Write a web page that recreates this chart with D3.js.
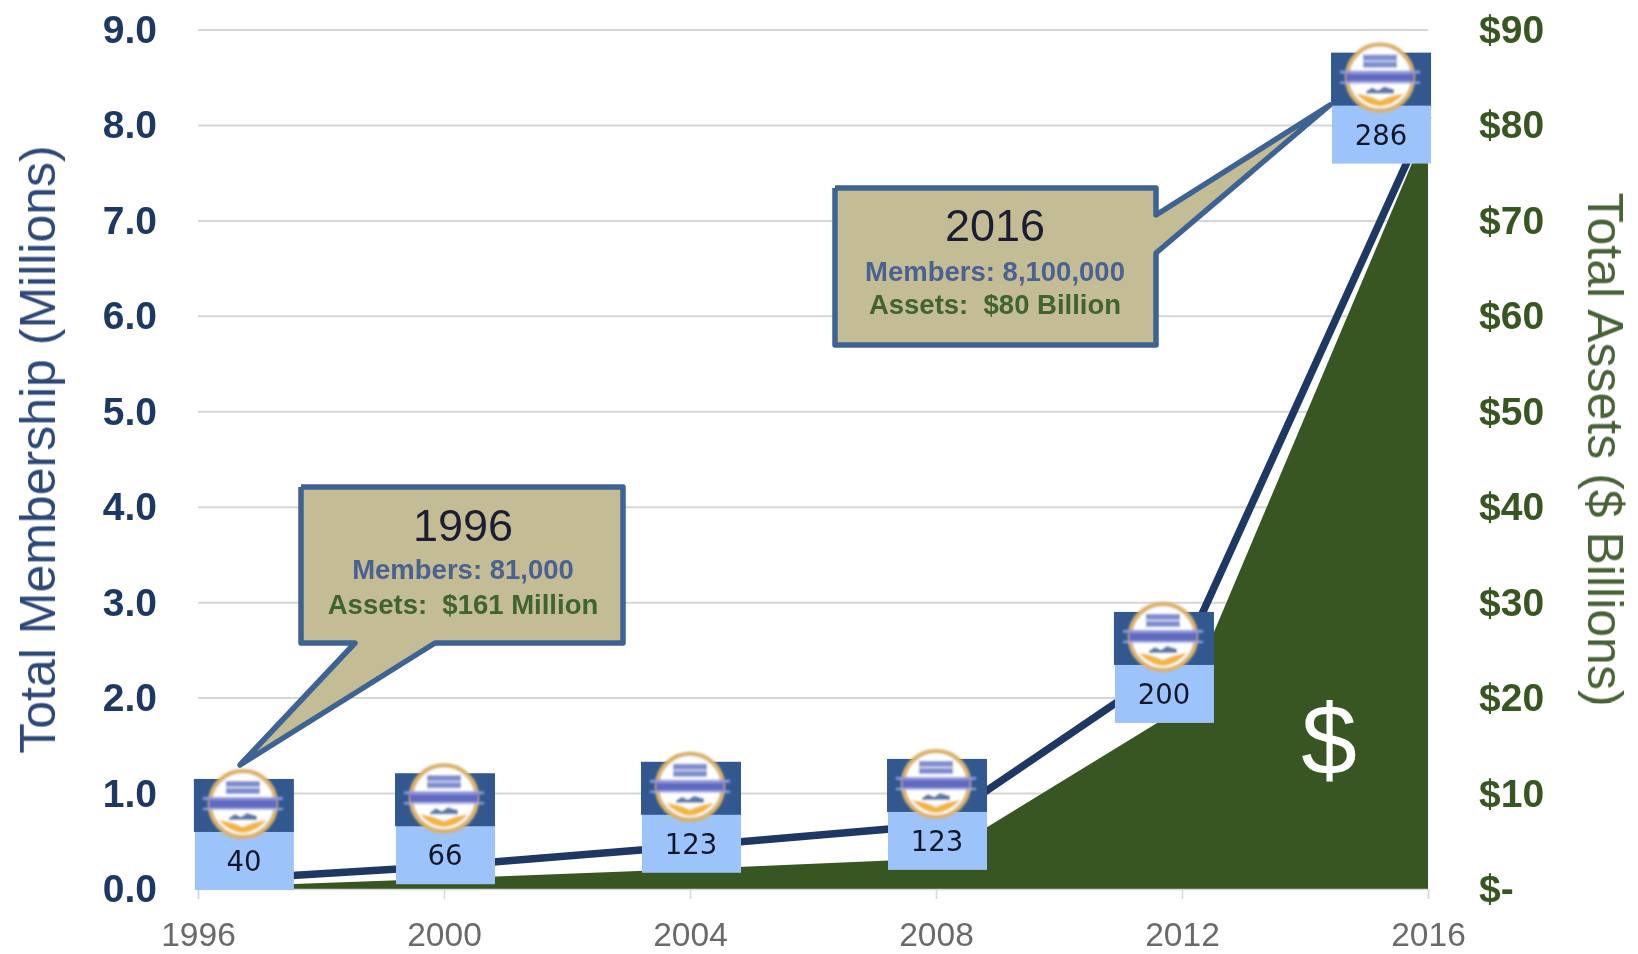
<!DOCTYPE html>
<html>
<head>
<meta charset="utf-8">
<script src="https://cdnjs.cloudflare.com/ajax/libs/d3/7.8.5/d3.min.js"></script>
<style>
  body { margin: 0; background: #fff; }
  text { font-family: "Liberation Sans", Arial, sans-serif; white-space: pre; }
</style>
</head>
<body>
<div id="chart"></div>
<script>
const years = [1996, 2000, 2004, 2008, 2012, 2016];
const members = [0.081, 0.24, 0.45, 0.67, 2.42, 8.1];   // millions
const assets = [0.161, 1.1, 2.1, 3.2, 19, 80];          // $ billions
const memberTicks = [0, 1, 2, 3, 4, 5, 6, 7, 8, 9];
const assetTicks = [0, 10, 20, 30, 40, 50, 60, 70, 80, 90];

// credit union badges
const badgeLabels = ["40", "66", "123", "123", "200", "286"];
const badgeYears = [1996.73, 2000, 2004, 2008, 2011.69, 2015.22];
const badgeLevels = [-0.01, 0.05, 0.17, 0.2, 1.74, 7.6];

const callout1996 = ["1996", "Members: 81,000", "Assets:  $161 Million"];
const callout2016 = ["2016", "Members: 8,100,000", "Assets:  $80 Billion"];

const margin = { top: 30, right: 210, bottom: 65, left: 198 },
  width = 1638 - margin.left - margin.right,
  height = 954 - margin.top - margin.bottom;

const navy = "#1f3864", green = "#375623", boxBlue = "#3c6494", tan = "#c4bc94";

const root = d3.select("#chart").append("svg")
  .attr("width", 1638)
  .attr("height", 954)
  .style("display", "block");

const defs = root.append("defs");
defs.append("filter").attr("id", "soft")
  .append("feGaussianBlur").attr("stdDeviation", 0.8);
defs.append("filter").attr("id", "page")
  .attr("filterUnits", "userSpaceOnUse")
  .attr("x", 0).attr("y", 0).attr("width", 1638).attr("height", 954)
  .append("feGaussianBlur").attr("stdDeviation", 0.55);

const page = root.append("g").attr("filter", "url(#page)");

const svg = page.append("g")
  .attr("transform", `translate(${margin.left},${margin.top})`);

const x = d3.scaleLinear().domain([1996, 2016]).range([0, width]);
const y = d3.scaleLinear().domain([0, 9]).range([height, 0]);
const yRight = d3.scaleLinear().domain([0, 90]).range([height, 0]);

// gridlines
svg.append("g")
  .selectAll("line")
  .data(memberTicks.slice(1))
  .join("line")
  .attr("x1", 0)
  .attr("x2", width)
  .attr("y1", d => y(d))
  .attr("y2", d => y(d))
  .attr("stroke", "#d6d6d6")
  .attr("stroke-width", 2);

// assets area
const area = d3.area()
  .x((d, i) => x(years[i]))
  .y0(height)
  .y1(d => yRight(d));

svg.append("path")
  .datum(assets)
  .attr("d", area)
  .attr("fill", green);

// membership line
const line = d3.line()
  .x((d, i) => x(years[i]))
  .y(d => y(d));

svg.append("path")
  .datum(members)
  .attr("d", line)
  .attr("fill", "none")
  .attr("stroke", navy)
  .attr("stroke-width", 7.5);

// axes
const xAxis = svg.append("g")
  .attr("transform", `translate(0,${height})`)
  .call(d3.axisBottom(x).tickValues(years).tickFormat(d3.format("d")).tickSize(10).tickPadding(23.5));
xAxis.select(".domain").attr("stroke", "#d9d9d9").attr("stroke-width", 1.6);
xAxis.selectAll(".tick line").attr("stroke", "#d9d9d9").attr("stroke-width", 1.6);
xAxis.selectAll("text").attr("fill", "#6a6a6a").style("font-size", "33.5px");

const yAxis = svg.append("g")
  .call(d3.axisLeft(y).tickValues(memberTicks).tickFormat(d3.format(".1f")).tickSize(0).tickPadding(41));
yAxis.select(".domain").remove();
yAxis.selectAll("text").attr("fill", navy)
  .style("font-size", "39px").style("font-weight", "bold");

const yAxisRight = svg.append("g")
  .attr("transform", `translate(${width},0)`)
  .call(d3.axisRight(yRight).tickValues(assetTicks)
    .tickFormat(d => d === 0 ? "$-" : "$" + d).tickSize(0).tickPadding(51));
yAxisRight.select(".domain").remove();
yAxisRight.selectAll("text").attr("fill", green)
  .style("font-size", "39px").style("font-weight", "bold");

// axis titles
svg.append("text")
  .attr("text-anchor", "middle")
  .attr("transform", `translate(${-143},${height / 2 - 10}) rotate(-90)`)
  .attr("fill", "#2f4a78")
  .style("font-size", "50px")
  .text("Total Membership (Millions)");

svg.append("text")
  .attr("text-anchor", "middle")
  .attr("transform", `translate(${width + 160},${height / 2 - 10}) rotate(90)`)
  .attr("fill", "#4a6338")
  .style("font-size", "50px")
  .text("Total Assets ($ Billions)");

svg.append("text")
  .attr("x", x(2016) - 99)
  .attr("y", y(0) - 115)
  .attr("text-anchor", "middle")
  .attr("fill", "#fff")
  .style("font-size", "100px")
  .text("$");

// callouts
function drawCallout(outline, lines, cx, baselines) {
  const g = page.append("g");
  g.append("path")
    .attr("d", d3.line()(outline))
    .attr("fill", tan)
    .attr("stroke", boxBlue)
    .attr("stroke-width", 5.5)
    .attr("stroke-linejoin", "round");
  const sizes = [45, 27.5, 27.5];
  const weights = ["normal", "bold", "bold"];
  const fills = ["#1a1f30", "#4a6290", "#3f6330"];
  lines.forEach((t, i) => {
    g.append("text")
      .attr("x", cx)
      .attr("y", baselines[i])
      .attr("text-anchor", "middle")
      .attr("fill", fills[i])
      .style("font-size", sizes[i] + "px")
      .style("font-weight", weights[i])
      .text(t);
  });
}

drawCallout(
  [[835, 188], [1156, 188], [1156, 215], [1330, 105], [1156, 253], [1156, 345], [835, 345], [835, 188]],
  callout2016, 995, [241, 281, 314]);

// badges
const badges = svg.append("g")
  .selectAll("g")
  .data(badgeLabels)
  .join("g")
  .attr("transform", (d, i) => `translate(${x(badgeYears[i])},${y(badgeLevels[i])})`);

badges.append("rect")
  .attr("x", -48).attr("y", -60).attr("width", 99).attr("height", 60)
  .attr("fill", "#9dc3fb");
badges.append("rect")
  .attr("x", -49).attr("y", -111).attr("width", 100).attr("height", 53)
  .attr("fill", "#31598f");

const logo = badges.append("g")
  .attr("transform", "translate(0,-86)")
  .attr("filter", "url(#soft)");
logo.append("circle").attr("r", 33).attr("fill", "#fff")
  .attr("stroke", "#dcb26a").attr("stroke-width", 4.5);
logo.append("rect").attr("x", -17).attr("y", -23).attr("width", 34).attr("height", 6).attr("fill", "#7f8fd0");
logo.append("rect").attr("x", -17).attr("y", -16).attr("width", 34).attr("height", 6).attr("fill", "#7f8fd0");
logo.append("rect").attr("x", -40).attr("y", -7).attr("width", 80).attr("height", 3).attr("fill", "#8f96dc");
logo.append("rect").attr("x", -34).attr("y", -4).attr("width", 68).attr("height", 8).attr("fill", "#5f6ac0");
logo.append("rect").attr("x", -40).attr("y", 4).attr("width", 80).attr("height", 2).attr("fill", "#a4aae4");
logo.append("path").attr("d", "M-14 14 L-8 10 L-2 13 L4 9 L14 12 L14 16 L-14 16 Z").attr("fill", "#5a78aa");
logo.append("path").attr("d", "M-24 16 Q-10 18 0 23 Q10 18 24 16 Q14 28 0 29 Q-14 28 -24 16 Z").attr("fill", "#f2b640");

badges.append("text")
  .attr("x", 1)
  .attr("y", -19)
  .attr("text-anchor", "middle")
  .attr("fill", "#10182a")
  .style("font-family", "'DejaVu Sans', sans-serif")
  .style("font-size", "27.5px")
  .text(d => d);

// 1996 callout tip sits above the first badge
drawCallout(
  [[301, 487], [623, 487], [623, 643], [435, 643], [240, 765], [355, 643], [301, 643], [301, 487]],
  callout1996, 463, [541, 579, 614]);
</script>
</body>
</html>
